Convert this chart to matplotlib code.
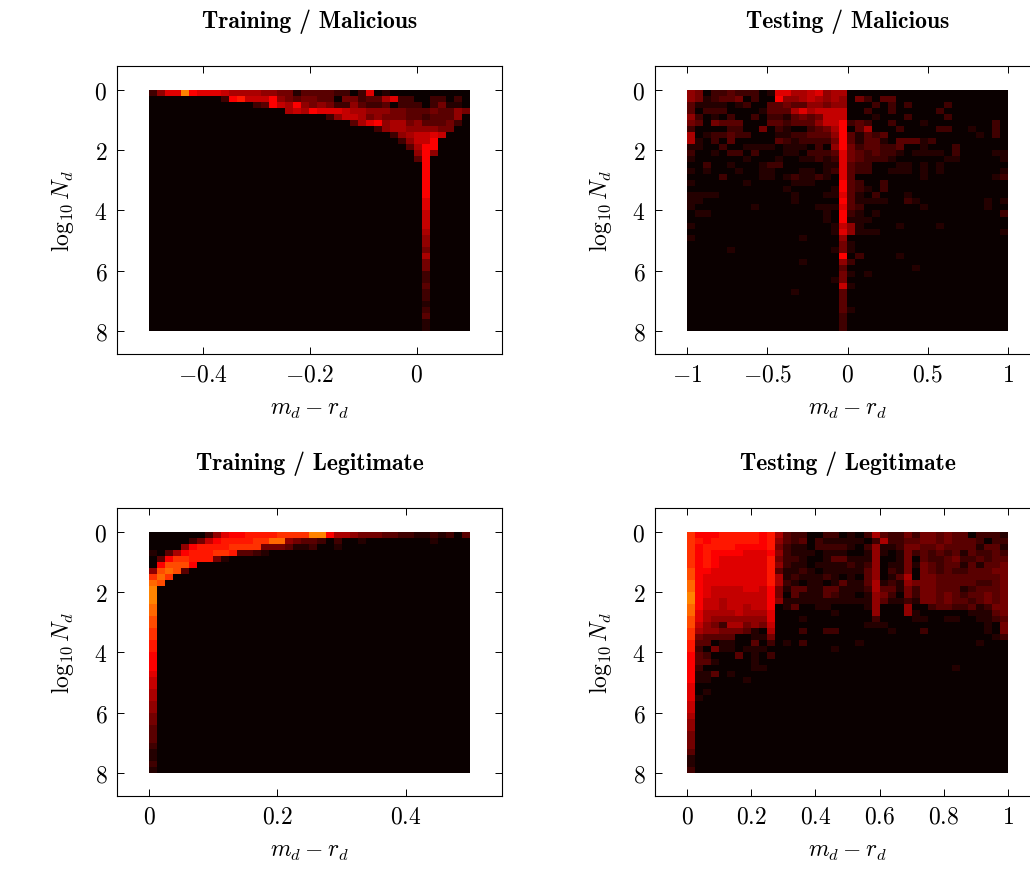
import numpy as np
import matplotlib
matplotlib.use("Agg")
import matplotlib.pyplot as plt

plt.rcParams["mathtext.fontset"] = "cm"
plt.rcParams["font.family"] = ["cmr10", "DejaVu Sans"]
plt.rcParams["axes.formatter.use_mathtext"] = True

# Heatmap levels, one string per row of 40 cells (base 36, top row first).
# Short rows are padded with zeros on the right.
train_mal_rows = [
    "2588e98887 6666554413 3332202801",
    "0000000002 9a77795434 4330442336 8220022020",
    "0000000000 0002397695 4542253223 0222024110",
    "0000000000 0000000676 9888766555 4433343354",
    "0000000000 0000000000 0025776454 4433233350",
    "0000000000 0000000000 0000036895 6645333420",
    "0000000000 0000000000 0000000025 6655554400",
    "0000000000 0000000000 0000000000 2567787000",
    "0000000000 0000000000 0000000000 0257790000",
    "0000000000 0000000000 0000000000 0036990000",
    "0000000000 0000000000 0000000000 0005950000",
    "0000000000 0000000000 0000000000 0003900000",
    "0000000000 0000000000 0000000000 0000900000",
    "0000000000 0000000000 0000000000 0000900000",
    "0000000000 0000000000 0000000000 0000900000",
    "0000000000 0000000000 0000000000 0000900000",
    "0000000000 0000000000 0000000000 0000900000",
    "0000000000 0000000000 0000000000 0000900000",
    "0000000000 0000000000 0000000000 0000800000",
    "0000000000 0000000000 0000000000 0000800000",
    "0000000000 0000000000 0000000000 0000700000",
    "0000000000 0000000000 0000000000 0000700000",
    "0000000000 0000000000 0000000000 0000700000",
    "0000000000 0000000000 0000000000 0000600000",
    "0000000000 0000000000 0000000000 0000500000",
    "0000000000 0000000000 0000000000 0000500000",
    "0000000000 0000000000 0000000000 0000400000",
    "0000000000 0000000000 0000000000 0000600000",
    "0000000000 0000000000 0000000000 0000400000",
    "0000000000 0000000000 0000000000 0000400000",
    "0000000000 0000000000 0000000000 0000200000",
    "0000000000 0000000000 0000000000 0000200000",
    "0000000000 0000000000 0000000000 0000300000",
    "0000000000 0000000000 0000000000 0000200000",
    "0000000000 0000000000 0000000000 0000200000",
    "0000000000 0000000000 0000000000 0000100000",
    "0000000000 0000000000 0000000000 0000200000",
    "0000000000 0000000000 0000000000 0000300000",
    "0000000000 0000000000 0000000000 0000100000",
    "0000000000 0000000000 0000000000 0000100000",
]

test_mal_rows = [
    "5402232220 1886678566",
    "5412334020 0955676565 0420330000",
    "3111101200 3343355455 0002020200 0020000000",
    "3022200001 3336867777 0020020000 0200000000",
    "5201020020 2213434777 0001000200 0020000000",
    "4304333000 3323335779 2320020001 0000000020",
    "2000022004 0210023469 0360002000 0220010020",
    "6012232200 0112233359 3132300000 0000001020",
    "6102030000 0321222249 3133103331 2000000000",
    "1100200111 1011102059 4233223001 0002000000",
    "2001022020 0011022238 4323221011 1102000011",
    "1000000100 0100112128 4322210000 0011000001",
    "0020010001 2200000118 3220001101 0100000000",
    "1010001001 1000110128 3220011101 0100000001",
    "0000200001 1012112108 3000000001 0000000012",
    "1000000100 0001110009 3200200000",
    "0000000000 0010000019 3210200000",
    "1111000000 0001000118 3102000100",
    "1100000000 0001000009 3111100210 0000000101",
    "1000000010 0000001118 3200000001 0000000100",
    "0110000000 0000000109 2101000000 0000000002",
    "0000000000 0000000109 1110000000",
    "1000000000 0000000017 5100001000 0100000000",
    "0000000000 0000000018 5111000000 0000000001",
    "1000000000 0000100005",
    "0000000000 0000000004 1",
    "0000010000 0000000014 1",
    "0000000000 0000000009 0200001000",
    "0000000000 0000100005 2",
    "0000000000 0000000003 0000000010",
    "0000000000 0000000004 1010000000",
    "0000000000 0000000014",
    "0000000000 0000000007 1",
    "0000000000 0001000003",
    "0000000000 0000000003",
    "0000000000 0000000003",
    "0000000000 0000000003 1",
    "0000000000 0000000002",
    "0000000000 0000000002",
    "0000000000 0000000002",
]

train_leg_rows = [
    "0000000258 99aaaabbbb ee96654443 3221121203",
    "000002479a aaabbdd543 3202001000 0000010000",
    "000059aaaa bbbb444311 2001000000",
    "10369aaabb a332100000",
    "039bbaaa41",
    "09ccc90000",
    "5cdc300000",
    "bdb",
    "dc",
    "e", "e", "e", "d", "d", "c", "c", "b", "b", "a", "a",
    "9", "9", "9", "8", "7", "7", "6", "6", "5", "5",
    "4", "4", "3", "3", "3", "2", "1", "1", "2", "1",
]

test_leg_rows = [
    "b999aaaaa9 a632200220 1026322424 4343302221",
    "ba9aaaaaa9 a532302111 1102622334 4343332022",
    "b9aaaa9999 a421102222 1025112443 3433331331",
    "b9a9999888 9521110111 0015101423 2323132232",
    "b9a9888888 a422100133 1115001403 2234223233",
    "b9a9888888 a521101111 2125011414 3233131334",
    "c998888888 a311210111 1135021404 3232233344",
    "c988888888 a612111210 1035013604 4333333334",
    "d988888888 a621011013 1136121544 4333332234",
    "d987777887 9413311331 1126331424 4333123334",
    "e987777777 9403111321 1015420424 4343233434",
    "e977677777 9511111111 1115311214 4343323434",
    "d977677677 9013001100 0015000500 2332231244",
    "d866667666 8000000010 0005000510 0000011134",
    "c865555555 8000100000 0002000011 0011001123",
    "c754266454 7000000000 0011100000 0000000104",
    "b655444310 6000200220 0000010002 0000000104",
    "b433330011 4000000000 0000000000 0000000012",
    "a330110030 2010200000 0100000000 0000001000",
    "a204110111 0000000010",
    "9320003010 2000000000",
    "9331000010",
    "9200000011 0000000000 0000000000 0001000000",
    "9113010000",
    "9110000100",
    "8",
    "8010000000",
    "8100000000",
    "7", "7", "6", "5", "5", "4", "4", "4", "3", "1", "1", "2",
]

titles = ["Training / Malicious", "Testing / Malicious", "Training / Legitimate", "Testing / Legitimate"]
grids = [train_mal_rows, test_mal_rows, train_leg_rows, test_leg_rows]
x_ranges = [(-0.5, 0.1), (-1, 1), (0, 0.5), (0, 1)]
x_ticks = [[-0.4, -0.2, 0], [-1, -0.5, 0, 0.5, 1], [0, 0.2, 0.4], [0, 0.2, 0.4, 0.6, 0.8, 1]]
x_tick_labels = [
    ["$-0.4$", "$-0.2$", "$0$"],
    ["$-1$", "$-0.5$", "$0$", "$0.5$", "$1$"],
    ["$0$", "$0.2$", "$0.4$"],
    ["$0$", "$0.2$", "$0.4$", "$0.6$", "$0.8$", "$1$"],
]
y_ticks = [0, 2, 4, 6, 8]


def parse_rows(rows):
    return np.array([[int(c, 36) for c in r.replace(" ", "").ljust(40, "0")] for r in rows])


W, H = 1030, 870
fig = plt.figure(figsize=(W / 100, H / 100), dpi=100)

# axes boxes in pixels: left, top
boxes = [(117, 67), (655, 67), (117, 509), (655, 509)]
box_w, box_h = 385, 288

for i in range(4):
    left, top = boxes[i]
    ax = fig.add_axes([left / W, 1 - (top + box_h) / H, box_w / W, box_h / H])
    x0, x1 = x_ranges[i]
    pad = (x1 - x0) * 32 / 321
    ax.imshow(parse_rows(grids[i]), cmap="hot", vmin=0, vmax=25, interpolation="nearest",
              aspect="auto", extent=[x0, x1, 8, 0])
    ax.set_xlim(x0 - pad, x1 + pad)
    ax.set_ylim(8.77, -0.8)
    ax.set_xticks(x_ticks[i])
    ax.set_xticklabels(x_tick_labels[i])
    ax.set_yticks(y_ticks)
    ax.set_yticklabels(["$%d$" % v for v in y_ticks])
    ax.tick_params(direction="in", length=5, width=0.7, top=True, right=True, labelsize=17, pad=7)
    for s in ax.spines.values():
        s.set_linewidth(0.8)
    ax.set_xlabel("$m_d - r_d$", fontsize=17, labelpad=9)
    ax.set_ylabel(r"$\log_{10} N_d$", fontsize=17, labelpad=13)
    ax.set_title(titles[i], fontsize=17, family=["cmb10", "DejaVu Sans"], pad=28)

plt.savefig("out.png", dpi=100)
plt.close()
